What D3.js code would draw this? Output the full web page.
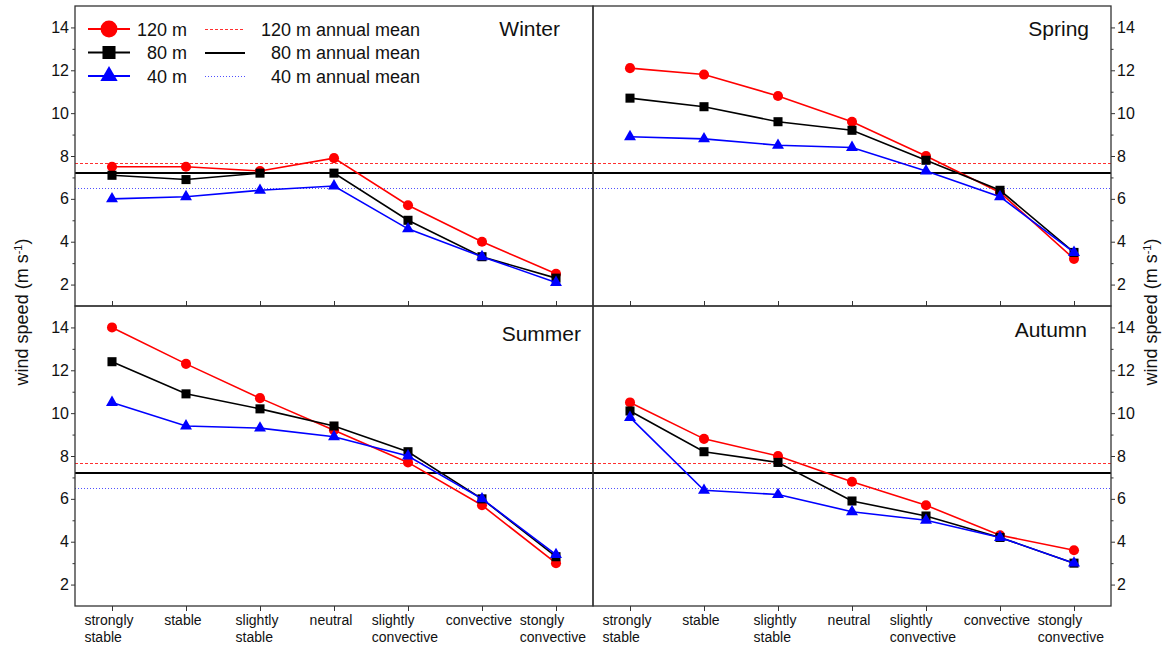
<!DOCTYPE html>
<html>
<head>
<meta charset="utf-8">
<script src="https://cdn.jsdelivr.net/npm/d3@7"></script>
<style>
  body { margin: 0; background: #fff; }
  svg { font-family: "Liberation Sans", Arial, sans-serif; }
</style>
</head>
<body>
<svg width="1167" height="647"></svg>
<script>
const categories = ["strongly\nstable", "stable", "slightly\nstable", "neutral",
  "slightly\nconvective", "convective", "stongly\nconvective"];
const seasons = ["Winter", "Spring", "Summer", "Autumn"];
const heights = ["120 m", "80 m", "40 m"];
const yTicks = [2, 4, 6, 8, 10, 12, 14];
const yMinorTicks = [3, 5, 7, 9, 11, 13];

// wind speed per stability class, m/s
const winter120 = [7.5, 7.5, 7.3, 7.9, 5.7, 4.0, 2.5];
const winter80 = [7.1, 6.9, 7.2, 7.2, 5.0, 3.3, 2.3];
const winter40 = [6.0, 6.1, 6.4, 6.6, 4.6, 3.3, 2.1];
const spring120 = [12.1, 11.8, 10.8, 9.6, 8.0, 6.3, 3.2];
const spring80 = [10.7, 10.3, 9.6, 9.2, 7.8, 6.4, 3.5];
const spring40 = [8.9, 8.8, 8.5, 8.4, 7.3, 6.1, 3.5];
const summer120 = [14.0, 12.3, 10.7, 9.2, 7.7, 5.7, 3.0];
const summer80 = [12.4, 10.9, 10.2, 9.4, 8.2, 6.0, 3.3];
const summer40 = [10.5, 9.4, 9.3, 8.9, 8.0, 6.0, 3.4];
const autumn120 = [10.5, 8.8, 8.0, 6.8, 5.7, 4.3, 3.6];
const autumn80 = [10.1, 8.2, 7.7, 5.9, 5.2, 4.2, 3.0];
const autumn40 = [9.8, 6.4, 6.2, 5.4, 5.0, 4.2, 3.0];

// annual means for 120 m, 80 m, 40 m
const annualMean = [7.65, 7.2, 6.5];

const seasonData = [
  [winter120, winter80, winter40],
  [spring120, spring80, spring40],
  [summer120, summer80, summer40],
  [autumn120, autumn80, autumn40]
];

const colors = ["#ff0000", "#000000", "#0000ff"],
  shapes = [d3.symbolCircle, d3.symbolSquare, d3.symbolTriangle],
  markSize = [80, 82, 62],
  legendSize = [225, 170, 130],
  meanStyle = [
    { stroke: "#ff3030", width: 1, dash: "3,2" },
    { stroke: "#000", width: 2, dash: null },
    { stroke: "#5050ff", width: 1, dash: "1,2" }
  ];

const marginLeft = 75, marginTop = 6, w = 518, h = 300;
// title offsets: [from right edge, baseline from top]
const titlePos = [[33, 30], [22, 30], [12, 35], [24, 31]];

const svg = d3.select("svg");

const x = d3.scalePoint().domain(d3.range(categories.length)).range([0, w]).padding(0.5);
const y = d3.scaleLinear().domain([1, 15]).range([h, 0]);

const line = d3.line().x((d, i) => x(i)).y(d => y(d));

// keep the thin mean lines on the pixel grid
function crisp(v, width) {
  return width % 2 == 1 ? Math.round(v) + 0.5 : Math.round(v);
}

seasonData.forEach((series, k) => {
  const col = k % 2, row = Math.floor(k / 2);
  const g = svg.append("g")
    .attr("transform", "translate(" + (marginLeft + col * w) + "," + (marginTop + row * h) + ")");

  // annual mean lines
  annualMean.forEach((m, i) => {
    const ym = crisp(y(m), meanStyle[i].width);
    g.append("line")
      .attr("x1", 0).attr("x2", w)
      .attr("y1", ym).attr("y2", ym)
      .attr("stroke", meanStyle[i].stroke)
      .attr("stroke-width", meanStyle[i].width)
      .attr("stroke-dasharray", meanStyle[i].dash);
  });

  // y axis, left for left column, right for right column
  const yAxis = col == 0 ? d3.axisLeft(y) : d3.axisRight(y);
  const yMinor = col == 0 ? d3.axisLeft(y) : d3.axisRight(y);
  g.append("g")
    .attr("class", "yaxis")
    .attr("transform", "translate(" + (col == 0 ? 0 : w) + ",0)")
    .call(yAxis.tickValues(yTicks).tickSize(4).tickPadding(2))
    .call(a => a.select(".domain").remove());
  g.append("g")
    .attr("transform", "translate(" + (col == 0 ? 0 : w) + ",0)")
    .call(yMinor.tickValues(yMinorTicks).tickSize(2.5).tickFormat(""))
    .call(a => a.select(".domain").remove());

  // x axis
  const xAxis = g.append("g")
    .attr("transform", "translate(0," + h + ")")
    .call(d3.axisBottom(x).tickSize(row == 0 ? -5 : 5).tickFormat(""));
  xAxis.select(".domain").remove();

  if (row == 1) {
    categories.forEach((c, i) => {
      const lines = c.split("\n");
      const t = g.append("text")
        .attr("font-size", 14)
        .attr("fill", "#111");
      lines.forEach((l, j) => {
        t.append("tspan").attr("x", 0).attr("y", h + 19 + j * 17).text(l);
      });
      const bw = t.node().getBBox().width;
      t.attr("transform", "translate(" + (x(i) - bw / 2 - 3) + ",0)");
    });
  }

  g.selectAll(".tick line").attr("stroke", "#333");
  g.selectAll(".yaxis text").attr("font-size", 16).attr("fill", "#111");

  // series lines and markers
  series.forEach((vals, i) => {
    g.append("path")
      .datum(vals)
      .attr("d", line)
      .attr("fill", "none")
      .attr("stroke", colors[i])
      .attr("stroke-width", 1.6);
    g.selectAll(".m" + i)
      .data(vals)
      .enter()
      .append("path")
      .attr("transform", (d, j) => "translate(" + x(j) + "," + y(d) + ")")
      .attr("d", d3.symbol().type(shapes[i]).size(markSize[i]))
      .attr("fill", colors[i]);
  });

  // frame
  g.append("rect")
    .attr("width", w).attr("height", h)
    .attr("fill", "none")
    .attr("stroke", "#333")
    .attr("stroke-width", 1.3);

  g.append("text")
    .attr("x", w - titlePos[k][0])
    .attr("y", titlePos[k][1])
    .attr("text-anchor", "end")
    .attr("font-size", 21)
    .attr("fill", "#111")
    .text(seasons[k]);
});

// legend inside the Winter panel
heights.forEach((hName, i) => {
  const cy = 29 + i * 23.5;
  const cyl = crisp(cy, meanStyle[i].width);
  svg.append("line")
    .attr("x1", 88).attr("x2", 130)
    .attr("y1", cy).attr("y2", cy)
    .attr("stroke", colors[i]).attr("stroke-width", 2);
  svg.append("path")
    .attr("transform", "translate(109," + cy + ")")
    .attr("d", d3.symbol().type(shapes[i]).size(legendSize[i]))
    .attr("fill", colors[i]);
  svg.append("text")
    .attr("x", 187).attr("y", cy + 6.5)
    .attr("text-anchor", "end")
    .attr("font-size", 18)
    .attr("fill", "#111")
    .text(hName);
  svg.append("line")
    .attr("x1", 205).attr("x2", 245)
    .attr("y1", cyl).attr("y2", cyl)
    .attr("stroke", meanStyle[i].stroke)
    .attr("stroke-width", meanStyle[i].width)
    .attr("stroke-dasharray", meanStyle[i].dash);
  svg.append("text")
    .attr("x", 420).attr("y", cy + 6.5)
    .attr("text-anchor", "end")
    .attr("font-size", 18)
    .attr("fill", "#111")
    .text(hName + " annual mean");
});

// y axis titles
function yTitle(tx) {
  const t = svg.append("text")
    .attr("transform", "translate(" + tx + ",312) rotate(-90)")
    .attr("text-anchor", "middle")
    .attr("font-size", 18)
    .attr("fill", "#111");
  t.append("tspan").text("wind speed (m s");
  t.append("tspan").attr("baseline-shift", "super").attr("font-size", 11).text("-1");
  t.append("tspan").text(")");
}
yTitle(28);
yTitle(1157);
</script>
</body>
</html>
